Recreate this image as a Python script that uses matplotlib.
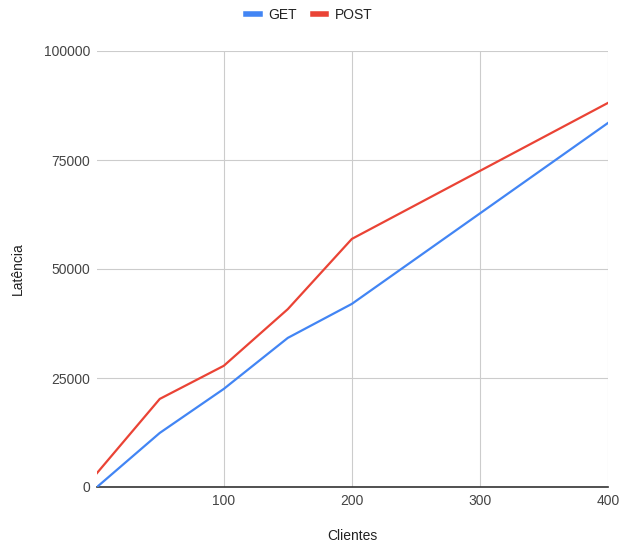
import matplotlib
matplotlib.use("Agg")
import matplotlib.pyplot as plt

plt.rcParams['font.family'] = ['Liberation Sans', 'DejaVu Sans']

# -----------------------
# Data
# -----------------------
clientes = [1, 50, 100, 150, 200, 400]
get_lat = [0, 12400, 22500, 34200, 42000, 83500]
post_lat = [3200, 20200, 27800, 40800, 56900, 88100]

# -----------------------
# Figure
# -----------------------
W, H = 619, 545
fig = plt.figure(figsize=(W/100, H/100), dpi=100)
ax = fig.add_axes([97/W, 58/H, 511/W, 436/H])

ax.plot(clientes, get_lat, color="#4285F4", lw=1.6, label="GET")
ax.plot(clientes, post_lat, color="#EA4335", lw=1.6, label="POST")

ax.set_xlim(1, 400)
ax.set_ylim(0, 100000)
ax.set_xticks([100, 200, 300, 400])
ax.set_yticks([0, 25000, 50000, 75000, 100000])

ax.grid(True, color="#cccccc", lw=0.8)
ax.set_axisbelow(True)
for s in ["top", "right", "left"]:
    ax.spines[s].set_visible(False)
ax.spines["bottom"].set_color("#333333")
ax.spines["bottom"].set_linewidth(1.2)
ax.spines["bottom"].set_zorder(1)
ax.tick_params(length=0, labelsize=10, labelcolor="#444444")
ax.tick_params(axis="x", pad=5)
ax.tick_params(axis="y", pad=5)

# axis titles placed in figure pixels
fig.text(352/W, 1 - 536/H, "Clientes", fontsize=10, color="#222222",
         ha="center", va="center")
fig.text(18/W, 1 - 269/H, "Latência", fontsize=10, color="#222222",
         ha="center", va="center", rotation=90)

leg = fig.legend(loc="center", bbox_to_anchor=(0.5, 1 - 15/H), ncol=2,
                 frameon=False, fontsize=10, handlelength=0.95,
                 columnspacing=1.2, handletextpad=0.6)
for h in leg.legend_handles:
    h.set_linewidth(4)
for t in leg.get_texts():
    t.set_color("#222222")

fig.savefig("out.png", dpi=100)
